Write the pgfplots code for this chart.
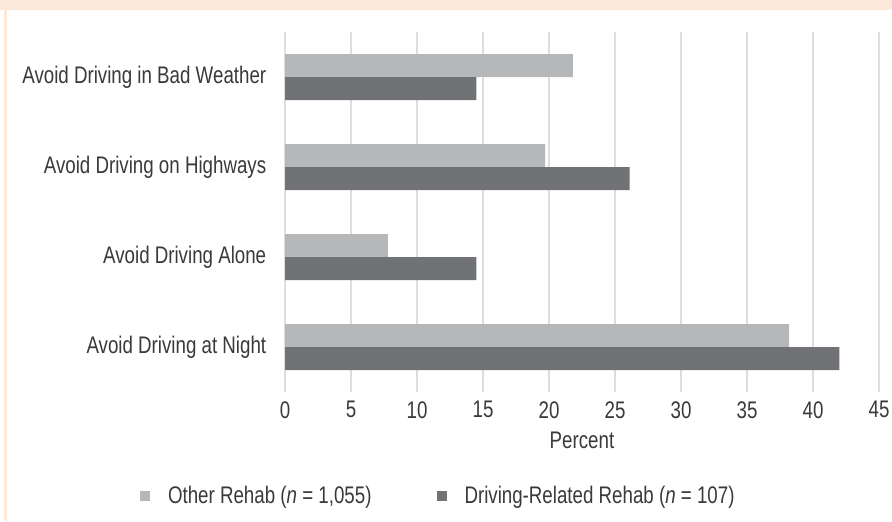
\documentclass[border=0pt]{standalone}
\usepackage{fontspec}
\setmainfont[FakeStretch=0.78]{Liberation Sans}
\usepackage{pgfplots}
\pgfplotsset{compat=1.18}
\definecolor{peach}{HTML}{FCE9D9}
\definecolor{lightbar}{HTML}{B6B7B9}
\definecolor{darkbar}{HTML}{717276}
\definecolor{gridc}{HTML}{DEDEDE}
\definecolor{txt}{HTML}{3A3A3A}
\newcommand\lab{\fontsize{12pt}{14.4pt}\selectfont}
\begin{document}
\begin{tikzpicture}[x=0.5pt,y=0.5pt]
\useasboundingbox (0,0) rectangle (892,521);
\fill[white] (0,0) rectangle (892,521);
\fill[peach] (0,511) rectangle (892,521);
\fill[peach] (4,0) rectangle (7,511);
\begin{axis}[
 at={(142.5pt,64.5pt)}, anchor=south west, scale only axis,
 width=297pt, height=180pt,
 xmin=0, xmax=45, ymin=-0.5, ymax=3.5,
 xtick={0,5,...,45}, ytick={0,1,2,3},
 yticklabels={Avoid Driving at Night, Avoid Driving Alone, Avoid Driving on Highways, Avoid Driving in Bad Weather},
 xmajorgrids, major grid style={color=gridc, line width=0.6pt},
 axis line style={draw=none},
 major tick length=0pt,
 tick label style={font=\lab, text=txt},
 /pgf/number format/assume math mode=true,
 xticklabel style={anchor=north, inner sep=0pt, yshift=-4.5pt},
 yticklabel style={anchor=east, inner sep=0pt, xshift=-9.2pt},
 xlabel={Percent},
 xlabel style={font=\lab, text=txt, at={(axis description cs:0.5,0)}, anchor=north, inner sep=0pt, yshift=-20pt},
 xbar, bar width=11.5pt,
 legend style={at={(-0.244,-0.29)}, anchor=west, draw=none, fill=none, inner sep=0pt, outer sep=0pt,
   font=\lab, text=txt, legend columns=2,
   /tikz/every odd column/.append style={column sep=9pt},
   /tikz/every even column/.append style={column sep=32.5pt},
   nodes={inner sep=0pt}},
 legend cell align=left,
]
\addplot[xbar, fill=lightbar, draw=none, bar shift=5.75pt,
  legend image code/.code={\fill[lightbar] (0pt,-2.5pt) rectangle (5pt,2.5pt);}]
  coordinates {(38.2,0) (7.8,1) (19.7,2) (21.8,3)};
\addlegendentry{Other Rehab (\textit{n} = 1,055)}
\addplot[xbar, fill=darkbar, draw=none, bar shift=-5.75pt,
  legend image code/.code={\fill[darkbar] (0pt,-2.5pt) rectangle (5pt,2.5pt);}]
  coordinates {(42.0,0) (14.5,1) (26.1,2) (14.5,3)};
\addlegendentry{Driving-Related Rehab (\textit{n} = 107)}
\end{axis}
\end{tikzpicture}
\end{document}
